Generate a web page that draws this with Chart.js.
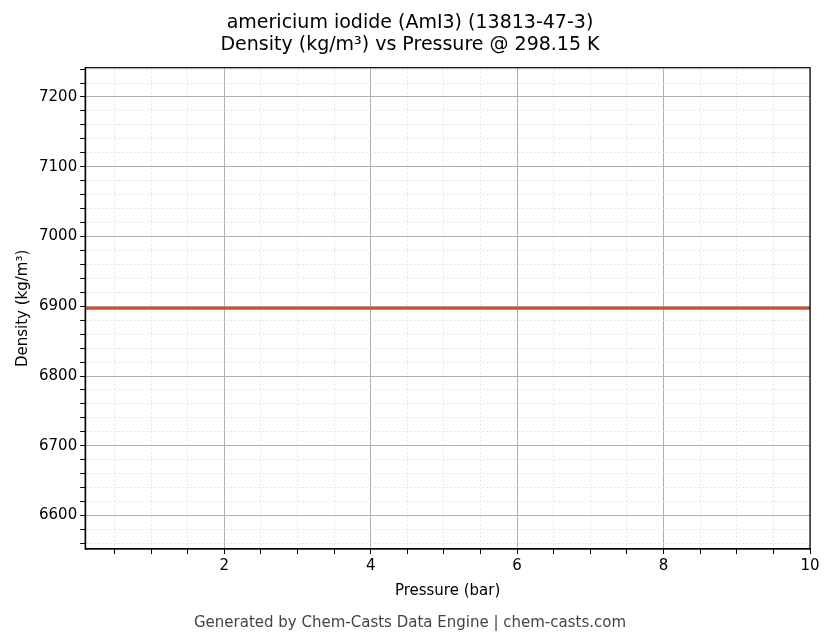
<!DOCTYPE html>
<html>
<head>
<meta charset="utf-8">
<script src="https://cdn.jsdelivr.net/npm/chart.js@4"></script>
<style>
  body { margin: 0; background: #fff; }
  #wrap { width: 836px; height: 644px; }
</style>
</head>
<body>
<div id="wrap"><canvas id="grafica"></canvas></div>
<script>
// datos
const pressures = [0.1, 1, 2, 3, 4, 5, 6, 7, 8, 9, 10];
const densities = [6897, 6897, 6897, 6897, 6897, 6897, 6897, 6897, 6897, 6897, 6897];
const xLabels = [2, 4, 6, 8, 10];
const yLabels = [6600, 6700, 6800, 6900, 7000, 7100, 7200];

const xTicks = [];
for (let v = 0.5; v <= 10; v += 0.5) xTicks.push(v);
const yTicks = [];
for (let v = 6560; v <= 7240; v += 20) yTicks.push(v);

const isMajorX = v => xLabels.includes(v);
const isMajorY = v => yLabels.includes(v);

const ctx = document.getElementById('grafica').getContext('2d');
new Chart(ctx, {
    type: 'line',
    data: {
        datasets: [{
            data: pressures.map((p, i) => ({ x: p, y: densities[i] })),
            borderColor: '#d1501f',
            borderWidth: 3,
            pointRadius: 0,
            fill: false
        }]
    },
    options: {
        responsive: true,
        maintainAspectRatio: false,
        animation: false,
        layout: { padding: { left: 10, right: 26, top: 6, bottom: 2 } },
        plugins: {
            legend: { display: false },
            tooltip: { enabled: false },
            title: {
                display: true,
                text: ['americium iodide (AmI3) (13813-47-3)', 'Density (kg/m³) vs Pressure @ 298.15 K'],
                color: '#000',
                font: { family: 'DejaVu Sans', size: 19, weight: 'normal', lineHeight: 1.15 },
                padding: { top: 6, bottom: 12 }
            },
            subtitle: {
                display: true,
                position: 'bottom',
                text: 'Generated by Chem-Casts Data Engine | chem-casts.com',
                color: '#444',
                font: { family: 'DejaVu Sans', size: 15 },
                padding: { top: 10, bottom: 10 }
            }
        },
        scales: {
            x: {
                type: 'linear',
                min: 0.1,
                max: 10,
                afterBuildTicks: axis => { axis.ticks = xTicks.map(v => ({ value: v })); },
                ticks: {
                    autoSkip: false,
                    maxRotation: 0,
                    color: '#000',
                    font: { family: 'DejaVu Sans', size: 15 },
                    callback: v => isMajorX(v) ? String(v) : ''
                },
                grid: {
                    color: c => isMajorX(c.tick.value) ? '#b0b0b0' : '#e4e4e4',
                    tickColor: '#000',
                    tickLength: 5
                },
                border: { color: '#000', width: 1.2, dash: c => isMajorX(c.tick.value) ? [] : [2, 2] },
                title: {
                    display: true,
                    text: 'Pressure (bar)',
                    color: '#000',
                    font: { family: 'DejaVu Sans', size: 15 }
                }
            },
            y: {
                min: 6552,
                max: 7242,
                afterBuildTicks: axis => { axis.ticks = yTicks.map(v => ({ value: v })); },
                ticks: {
                    autoSkip: false,
                    color: '#000',
                    font: { family: 'DejaVu Sans', size: 15 },
                    callback: v => isMajorY(v) ? String(v) : ''
                },
                grid: {
                    color: c => isMajorY(c.tick.value) ? '#b0b0b0' : '#e4e4e4',
                    tickColor: '#000',
                    tickLength: 5
                },
                border: { color: '#000', width: 1.2, dash: c => isMajorY(c.tick.value) ? [] : [2, 2] },
                title: {
                    display: true,
                    text: 'Density (kg/m³)',
                    color: '#000',
                    font: { family: 'DejaVu Sans', size: 15 }
                }
            }
        }
    },
    plugins: [{
        id: 'marco',
        afterDraw(chart) {
            const a = chart.chartArea, c = chart.ctx;
            c.save();
            c.strokeStyle = '#000';
            c.lineWidth = 1.2;
            c.strokeRect(a.left, a.top, a.right - a.left, a.bottom - a.top);
            c.restore();
        }
    }]
});
</script>
</body>
</html>
